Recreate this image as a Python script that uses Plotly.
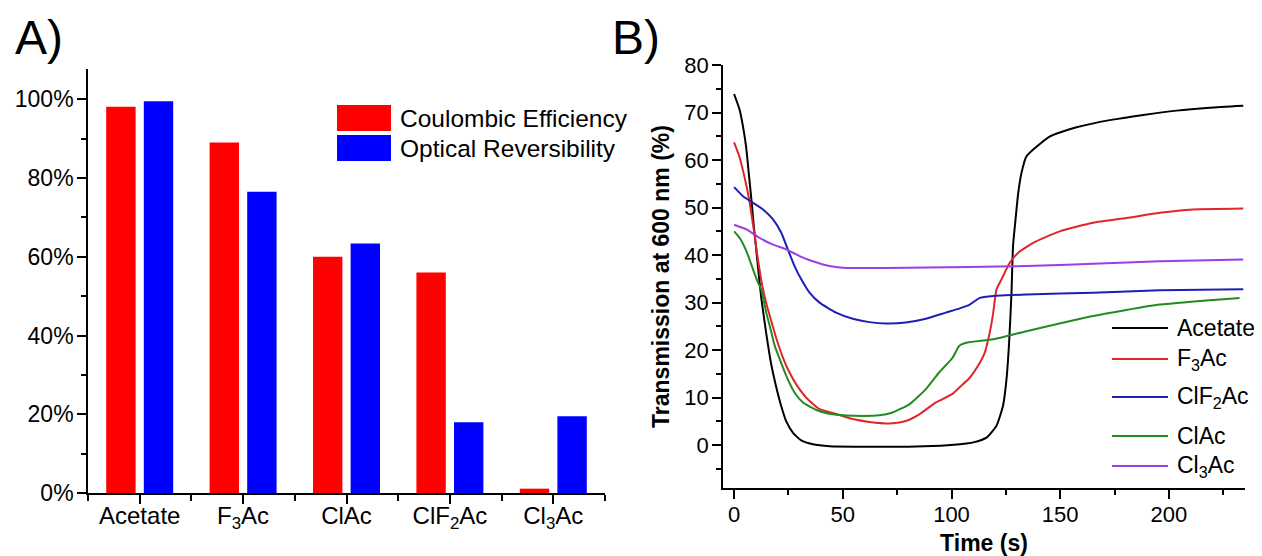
import plotly.graph_objects as go

# The page body has an 8px default margin, so the figure is drawn 8px in from
# the window's top-left corner; positions below are window pixels.
OFF = 8
W, H = 1262 - OFF, 556 - OFF
FONT = "Liberation Sans, Arial, sans-serif"

# ---------------- Panel A data ----------------
categories = ["Acetate", "F<sub>3</sub>Ac", "ClAc", "ClF<sub>2</sub>Ac", "Cl<sub>3</sub>Ac"]
coulombic_efficiency = [0.981, 0.890, 0.600, 0.560, 0.011]
optical_reversibility = [0.995, 0.765, 0.634, 0.180, 0.195]
bar_names = ["Coulombic Efficiency", "Optical Reversibility"]
bar_colors = ["#ff0000", "#0000ff"]
percent_ticks = [0, 0.2, 0.4, 0.6, 0.8, 1.0]

# ---------------- Panel B data ----------------
t_acetate = [0, 2.6, 4.5, 5.6, 6.8, 8.0, 9.0, 10.0, 11.0, 12.5, 14.8, 17.1, 19.4, 21.7, 24.0,
             27.1, 30.9, 36.2, 43.9, 60, 80, 95, 103.8, 110.0, 116.1, 120.7, 123.7, 125.3,
             126.5, 127.6, 128.3, 129.6, 130.7, 132.2, 134.5, 139.1, 145.3, 149.8, 157.5,
             172.8, 188.2, 203.5, 218.9, 234.2]
T_acetate = [73.9, 70.5, 66.0, 62.5, 57.0, 51.5, 46.5, 42.0, 37.5, 31.0, 23.5, 17.0, 12.2, 8.2, 5.0,
             2.6, 1.0, 0.2, -0.2, -0.3, -0.3, -0.1, 0.2, 0.6, 1.6, 4.1, 8.3, 13.9,
             21.6, 32.1, 41.9, 48.2, 53.1, 57.3, 60.8, 62.8, 65.0, 65.8, 66.9,
             68.4, 69.5, 70.4, 71.0, 71.4]

t_f3ac = [0, 2.6, 5.0, 7.0, 9.0, 11.0, 13.0, 15.0, 17.5, 19.4, 22.5, 25.5, 28.6, 33.2, 39.3,
          46.9, 54.6, 62.2, 72.9, 79.0, 85.2, 92.8, 100.5, 104.0, 108.4, 112.2, 115.3, 117.6,
          119.2, 120.7, 123.0, 126.8, 130.7, 137.6, 149.8, 165.2, 180.5, 195.8, 211.2, 234.2]
T_f3ac = [63.7, 60.5, 56.0, 51.5, 45.5, 39.0, 33.5, 29.5, 25.5, 22.5, 18.4, 15.3, 12.8, 10.0, 7.6,
          6.6, 5.5, 4.9, 4.6, 5.1, 6.5, 9.0, 10.8, 12.3, 14.2, 16.7, 19.5, 23.7,
          27.9, 32.8, 34.9, 38.4, 40.5, 42.6, 45.0, 46.8, 47.8, 48.9, 49.6, 49.8]

t_clf2ac = [0, 4.1, 8.7, 13.3, 17.9, 21.7, 24.7, 27.8, 30.9, 34.7, 39.3, 46.9, 54.6, 62.2,
            69.9, 79.0, 88.2, 97.4, 103.8, 108.4, 113.0, 119.2, 134.5, 165.2, 195.8, 234.2]
T_clf2ac = [54.3, 52.4, 51.0, 49.6, 47.5, 44.7, 41.2, 37.7, 34.9, 32.1, 30.0, 27.9, 26.6, 25.9,
            25.6, 25.8, 26.6, 27.9, 28.8, 29.6, 31.0, 31.4, 31.7, 32.1, 32.6, 32.8]

t_clac = [0, 2.6, 5.7, 8.7, 11.0, 12.5, 14.8, 16.4, 18.7, 21.0, 24.0, 27.8, 31.7, 37.8, 45.4,
          54.6, 66.8, 72.9, 80.6, 88.2, 94.3, 100.5, 103.5, 107.3, 119.2, 134.5, 165.2, 195.8, 232.5]
T_clac = [45.0, 43.6, 40.8, 37.0, 34.2, 32.8, 27.9, 25.1, 20.9, 18.1, 14.6, 11.1, 9.0, 7.4, 6.5,
          6.2, 6.3, 6.9, 8.6, 11.8, 15.3, 18.4, 20.9, 21.6, 22.3, 24.0, 27.2, 29.6, 31.0]

t_cl3ac = [0, 5.7, 11.8, 17.9, 24.0, 30.1, 36.2, 43.9, 51.5, 69.9, 108.1, 134.5, 165.2, 195.8, 234.2]
T_cl3ac = [46.4, 45.4, 43.6, 42.2, 41.2, 39.8, 38.7, 37.7, 37.3, 37.3, 37.5, 37.7, 38.2, 38.7, 39.1]

line_names = ["Acetate", "F<sub>3</sub>Ac", "ClF<sub>2</sub>Ac", "ClAc", "Cl<sub>3</sub>Ac"]
line_colors = ["#000000", "#e0262a", "#1f1fb8", "#228b22", "#9b3fe0"]
line_times = [t_acetate, t_f3ac, t_clf2ac, t_clac, t_cl3ac]
line_values = [T_acetate, T_f3ac, T_clf2ac, T_clac, T_cl3ac]
time_ticks = [0, 50, 100, 150, 200]
trans_ticks = [0, 10, 20, 30, 40, 50, 60, 70, 80]

fig = go.Figure()

positions = list(range(len(categories)))
for name, vals, col in zip(bar_names, [coulombic_efficiency, optical_reversibility], bar_colors):
    fig.add_trace(go.Bar(x=positions, y=vals, name=name, marker=dict(color=col, line=dict(width=0)),
                         xaxis="x", yaxis="y", showlegend=False))

for name, t, v, col in zip(line_names, line_times, line_values, line_colors):
    fig.add_trace(go.Scatter(x=t, y=v, mode="lines", name=name,
                             line=dict(color=col, width=2, shape="spline", smoothing=0.5),
                             xaxis="x2", yaxis="y2", showlegend=False))


def px_x(p):
    return (p - OFF) / W


def px_y(p):
    return 1 - (p - OFF) / H


axis_common = dict(showline=True, linecolor="black", linewidth=1.6, ticks="outside",
                   ticklen=9, tickwidth=1.6, tickcolor="black", showgrid=False,
                   zeroline=False, automargin=False)

fig.update_layout(
    width=W, height=H,
    margin=dict(l=0, r=0, t=0, b=0),
    paper_bgcolor="white", plot_bgcolor="white",
    font=dict(family=FONT, size=22, color="black"),
    barmode="group", bargap=0.273, bargroupgap=0.218,
    showlegend=False,
    xaxis=dict(domain=[px_x(88), px_x(605)], range=[-0.5, 4.5], anchor="y",
               tickmode="array", tickvals=positions, ticktext=categories,
               tickfont=dict(size=24), ticklabelstandoff=-9,
               minor=dict(tickmode="array", tickvals=[i - 0.5 for i in range(len(categories) + 1)],
                          ticks="outside", ticklen=6, tickwidth=1.6, tickcolor="black", showgrid=False),
               **axis_common),
    yaxis=dict(domain=[px_y(493), px_y(69)], range=[0, 1.077], anchor="x",
               tickmode="array", tickvals=percent_ticks, tickformat=".0%",
               tickfont=dict(size=23), ticklabelstandoff=-1,
               minor=dict(dtick=0.1, tick0=0, ticks="outside", ticklen=5, tickwidth=1.6,
                          tickcolor="black", showgrid=False),
               **axis_common),
    xaxis2=dict(domain=[px_x(723), px_x(1245)], range=[-5.1, 235], anchor="y2",
                tickmode="array", tickvals=time_ticks, tickfont=dict(size=22), ticklabelstandoff=-3,
                title=dict(text="Time (s)", font=dict(size=23, weight="bold"), standoff=19),
                minor=dict(dtick=25, tick0=0, ticks="outside", ticklen=5, tickwidth=1.6,
                           tickcolor="black", showgrid=False),
                **axis_common),
    yaxis2=dict(domain=[px_y(488), px_y(65)], range=[-9, 80], anchor="x2",
                tickmode="array", tickvals=trans_ticks, tickfont=dict(size=22), ticklabelstandoff=-1,
                title=dict(text="Transmission at 600 nm (%)", font=dict(size=23, weight="bold"), standoff=8),
                minor=dict(dtick=5, tick0=0, ticks="outside", ticklen=5, tickwidth=1.6,
                           tickcolor="black", showgrid=False),
                **axis_common),
)

shapes = []
annotations = []

# Panel labels
annotations.append(dict(text="A)", x=px_x(13), y=px_y(37), xref="paper", yref="paper",
                        xanchor="left", yanchor="middle", showarrow=False, font=dict(size=48)))
annotations.append(dict(text="B)", x=px_x(610), y=px_y(37), xref="paper", yref="paper",
                        xanchor="left", yanchor="middle", showarrow=False, font=dict(size=48)))

# Panel A legend (large patches)
patch_rows = [(105, 131), (135, 161)]
for (top, bot), name, col in zip(patch_rows, bar_names, bar_colors):
    shapes.append(dict(type="rect", xref="paper", yref="paper", x0=px_x(337), x1=px_x(391),
                       y0=px_y(bot), y1=px_y(top), fillcolor=col, line=dict(width=0)))
    annotations.append(dict(text=name, x=px_x(398), y=px_y((top + bot) / 2), xref="paper", yref="paper",
                            xanchor="left", yanchor="middle", showarrow=False, font=dict(size=24.5)))

# Panel B legend (long line samples)
legend_rows = [328, 359, 397, 436, 466]
for row, name, col in zip(legend_rows, line_names, line_colors):
    shapes.append(dict(type="line", xref="paper", yref="paper", x0=px_x(1112), x1=px_x(1168),
                       y0=px_y(row), y1=px_y(row), line=dict(color=col, width=2)))
    annotations.append(dict(text=name, x=px_x(1175), y=px_y(row), xref="paper", yref="paper",
                            xanchor="left", yanchor="middle", showarrow=False, font=dict(size=23)))

fig.update_layout(shapes=shapes, annotations=annotations)

fig.write_html("out.html")
